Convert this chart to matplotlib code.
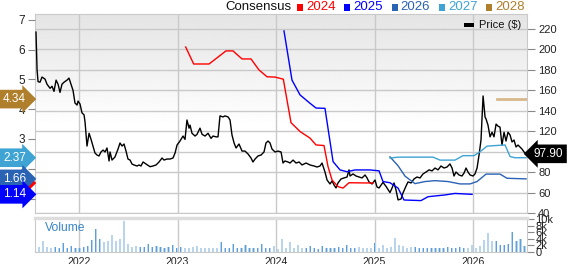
import matplotlib
matplotlib.use("Agg")
import matplotlib.pyplot as plt
import matplotlib.transforms as mtrans
from matplotlib.patches import Rectangle
import numpy as np
import pandas as pd

plt.rcParams['font.family'] = ['Liberation Sans', 'DejaVu Sans']

# price history (decimal year, $)
price_t = [2021.563, 2021.574, 2021.584, 2021.604, 2021.624, 2021.655, 2021.675, 2021.706,
           2021.726, 2021.746, 2021.767, 2021.787, 2021.807, 2021.827, 2021.848, 2021.878,
           2021.898, 2021.919, 2021.939, 2021.959, 2021.980, 2021.990, 2022.010, 2022.030,
           2022.051, 2022.061, 2022.081, 2022.102, 2022.122, 2022.142, 2022.162, 2022.183,
           2022.203, 2022.223, 2022.244, 2022.264, 2022.284, 2022.305, 2022.315, 2022.335,
           2022.365, 2022.396, 2022.416, 2022.437, 2022.457, 2022.477, 2022.497, 2022.518,
           2022.538, 2022.558, 2022.589, 2022.609, 2022.629, 2022.650, 2022.721, 2022.751,
           2022.782, 2022.812, 2022.843, 2022.863, 2022.893, 2022.924, 2022.954, 2022.975,
           2022.995, 2023.025, 2023.056, 2023.076, 2023.096, 2023.117, 2023.127, 2023.147,
           2023.178, 2023.198, 2023.228, 2023.249, 2023.279, 2023.310, 2023.340, 2023.360,
           2023.391, 2023.411, 2023.431, 2023.462, 2023.482, 2023.513, 2023.533, 2023.553,
           2023.574, 2023.594, 2023.624, 2023.655, 2023.685, 2023.716, 2023.746, 2023.766,
           2023.787, 2023.817, 2023.848, 2023.878, 2023.898, 2023.919, 2023.939, 2023.959,
           2023.990, 2024.020, 2024.051, 2024.071, 2024.091, 2024.122, 2024.142, 2024.173,
           2024.203, 2024.234, 2024.264, 2024.305, 2024.345, 2024.386, 2024.416, 2024.447,
           2024.467, 2024.497, 2024.518, 2024.548, 2024.569, 2024.589, 2024.609, 2024.629,
           2024.660, 2024.690, 2024.721, 2024.741, 2024.751, 2024.782, 2024.812, 2024.843,
           2024.873, 2024.904, 2024.924, 2024.944, 2024.975, 2025.005, 2025.025, 2025.046,
           2025.086, 2025.117, 2025.157, 2025.178, 2025.198, 2025.218, 2025.239, 2025.269,
           2025.289, 2025.320, 2025.340, 2025.371, 2025.401, 2025.431, 2025.462, 2025.492,
           2025.523, 2025.553, 2025.584, 2025.614, 2025.645, 2025.675, 2025.706, 2025.736,
           2025.766, 2025.787, 2025.807, 2025.827, 2025.858, 2025.888, 2025.909, 2025.929,
           2025.949, 2025.970, 2026.000, 2026.020, 2026.041, 2026.061, 2026.081, 2026.102,
           2026.122, 2026.132, 2026.152, 2026.173, 2026.193, 2026.213, 2026.234, 2026.254,
           2026.274, 2026.294, 2026.315, 2026.335, 2026.355, 2026.376, 2026.396, 2026.416,
           2026.437, 2026.457, 2026.477, 2026.497, 2026.518, 2026.538]
price = [217, 180, 168.5, 168, 173, 171, 166, 162, 164, 159, 170, 166, 158, 166, 168, 170,
         172, 166, 160, 147.6, 145.6, 149.5, 146.6, 138, 136, 129, 105.5, 118, 112, 105.5,
         98.7, 96.7, 95.8, 99.7, 101.6, 99.7, 103.6, 90.9, 99.7, 91.8, 94.8, 102.6, 108.5,
         105.5, 107.5, 100.6, 92.8, 91.8, 87.9, 87, 86, 87, 86, 89.9, 85.3, 86, 87, 89.9,
         93.8, 91.8, 92.8, 92.8, 93.8, 98.7, 106.5, 110.4, 115.3, 112, 131, 123, 126, 118,
         115.3, 117, 123, 117, 115.3, 118, 113, 115.3, 114.5, 114.5, 135, 134, 135, 134, 131,
         116.3, 108.5, 103.6, 107.5, 100.6, 100.6, 97.7, 93.8, 89.9, 92.8, 95.8, 96.7, 99.7,
         108.5, 110.4, 108.5, 102.6, 99.7, 100.6, 99.7, 88.9, 90.9, 89.9, 88.9, 91.8, 88.9,
         89.9, 87, 88.9, 87, 86, 85, 86, 88.9, 80.1, 72.3, 68.4, 71.4, 67.4, 64.5, 69.4, 73.3,
         74.3, 75.2, 82.2, 76.2, 78.2, 76.2, 75.2, 74.3, 77.2, 74.3, 70.4, 68.4, 72.3, 65.5,
         64.5, 70, 66, 60, 64.5, 69.4, 62.5, 52.8, 53.7, 59.6, 66.4, 70.4, 69.4, 73.3, 75.2,
         74.3, 78.2, 80.1, 82.2, 81.2, 84, 82.2, 86, 84, 85, 88, 84, 76.2, 80.1, 77.2, 76.2,
         79.2, 84, 80.1, 77.2, 76.2, 78.2, 84, 96.7, 111.4, 154.5, 133.9, 132, 126, 114.5,
         119, 114.5, 127, 125, 124, 106.5, 119, 110.4, 119, 116.3, 109.5, 111.4, 104.6, 106.5,
         104.6, 102.6, 99.7, 97.9]

# consensus EPS estimates by fiscal year (decimal year, $)
eps_2024_t = [2023.083, 2023.164, 2023.320, 2023.492, 2023.563, 2023.655, 2023.746, 2023.827,
              2023.909, 2023.990, 2024.074, 2024.152, 2024.244, 2024.345, 2024.406, 2024.487,
              2024.528, 2024.569, 2024.629, 2024.680, 2024.741, 2024.985]
eps_2024 = [6.09, 5.52, 5.52, 5.96, 5.96, 5.69, 5.69, 5.32, 5.09, 5.08, 5.01, 3.55, 3.25, 3.03,
            2.80, 2.78, 2.07, 1.62, 1.40, 1.35, 1.53, 1.52]
eps_2025_t = [2024.081, 2024.162, 2024.244, 2024.345, 2024.406, 2024.497, 2024.579, 2024.650,
              2024.721, 2024.802, 2024.954, 2025.046, 2025.086, 2025.157, 2025.239, 2025.299,
              2025.472, 2025.543, 2025.716, 2025.817, 2025.990]
eps_2025 = [6.63, 4.98, 4.48, 4.20, 4.04, 4.03, 2.24, 1.96, 1.90, 1.96, 1.96, 1.93, 1.57, 1.53,
            1.35, 0.95, 0.93, 1.06, 1.12, 1.17, 1.14]
eps_2026_t = [2025.157, 2025.239, 2025.310, 2025.411, 2025.513, 2025.614, 2025.746, 2025.868,
              2025.970, 2026.041, 2026.132, 2026.274, 2026.345, 2026.538]
eps_2026 = [2.40, 2.10, 1.75, 1.50, 1.57, 1.60, 1.57, 1.49, 1.49, 1.57, 1.82, 1.82, 1.68, 1.66]
eps_2027_t = [2025.157, 2025.239, 2025.594, 2025.665, 2025.817, 2025.898, 2026.010, 2026.071,
              2026.142, 2026.325, 2026.376, 2026.426, 2026.538]
eps_2027 = [2.36, 2.39, 2.39, 2.29, 2.29, 2.44, 2.44, 2.57, 2.76, 2.80, 2.41, 2.37, 2.37]
eps_2028_t = [2026.244, 2026.548]
eps_2028 = [4.34, 4.34]

# volume (thousands), one bar every 15 days
vol_start = '2021-07-22'
volume = [3.5, 1.6, 3.2, 1.4, 1.3, 1.4, 1.2, 2.7, 1.2, 1.8, 1.2, 1.3, 1.5, 1.8, 3.5, 6.9,
          3.9, 2.9, 3.4, 5.2, 3.2, 3.8, 9.4, 2.5, 1.4, 1.8, 1.4, 1.6, 2.5, 1.6, 1.7, 1.4,
          1.2, 1.6, 2.2, 1.3, 1.6, 1.3, 1.2, 1.4, 1.7, 1.2, 1.1, 1.3, 1.2, 1.3, 2.9, 1.2,
          1.1, 2.5, 1.2, 1.1, 2.0, 1.1, 1.2, 1.1, 2.5, 1.2, 1.1, 1.8, 1.0, 3.9, 1.3, 2.9,
          1.3, 2.2, 1.2, 1.1, 1.8, 1.1, 1.0, 1.8, 1.1, 1.3, 1.2, 1.4, 1.2, 2.2, 1.3, 1.1,
          1.4, 1.2, 1.3, 1.1, 2.7, 1.2, 2.2, 1.3, 1.6, 4.1, 2.2, 1.8, 1.3, 1.6, 1.6, 1.2,
          1.1, 1.2, 1.1, 1.3, 1.2, 1.1, 1.6, 1.2, 1.1, 1.6, 1.3, 1.2, 2.2, 1.2, 1.8, 3.5,
          5.7, 3.2, 3.2, 2.2, 2.2, 2.5, 6.2, 3.2, 3.9, 1.8, 1.8, 1.9]

years = [2022, 2023, 2024, 2025, 2026]
eps_ticks = [1, 2, 3, 4, 5, 6, 7]
price_ticks = list(range(40, 221, 20))
vol_ticks = [0, 2, 4, 6, 8, 10]
vol_labels = ['0', '2k', '4k', '6k', '8k', '10k']

series = [('2024', eps_2024_t, eps_2024, '#ff0000'),
          ('2025', eps_2025_t, eps_2025, '#0000ff'),
          ('2026', eps_2026_t, eps_2026, '#2a62b4'),
          ('2027', eps_2027_t, eps_2027, '#3fa3d3'),
          ('2028', eps_2028_t, eps_2028, '#b07f2c')]

W, H = 568, 264
fig = plt.figure(figsize=(W / 100, H / 100), dpi=100)
grid_c = '#c9c9c9'
tick_c = '#888888'
xlim = (2021.553, 2026.548)

# price panel (grid lives here), EPS on a twin axis
ax = fig.add_axes([35 / W, 51 / H, 492 / W, 199 / H])
ax.set_xlim(xlim)
ax.set_ylim(40, 234.7)
grad = np.linspace(0.895, 1.0, 256)
grad = np.concatenate([grad, np.ones(200)])[:, None]
ax.imshow(grad, cmap='gray', vmin=0, vmax=1, extent=[0, 1, 0, 1], transform=ax.transAxes,
          aspect='auto', origin='upper', zorder=0)
ax.set_xticks(years)
ax.grid(True, color=grid_c, lw=1)
ax.set_axisbelow(True)
ax.tick_params(axis='x', bottom=False, labelbottom=False)
for s in ax.spines.values():
    s.set_color(grid_c)
ax.plot(price_t, price, color='black', lw=1, zorder=3)

ax_e = ax.twinx()
ax_e.set_ylim(0.513, 7.2)
ax_e.set_xlim(xlim)
for s in ax_e.spines.values():
    s.set_visible(False)
for name, t, v, c in series:
    lc = '#d8b98c' if name == '2028' else c
    lw = 2 if name == '2028' else 1
    ax_e.plot(t, v, color=lc, lw=lw, zorder=2)

# twinx moved the ticks around, set the sides afterwards
ax.yaxis.tick_right()
ax.set_yticks(price_ticks)
ax.tick_params(axis='y', right=True, left=False, labelright=True, labelleft=False,
               length=6, width=0.8, color=tick_c, labelsize=8, labelcolor='#222222', pad=2)
ax_e.yaxis.tick_left()
ax_e.set_yticks(eps_ticks)
ax_e.tick_params(axis='y', left=True, right=False, labelleft=True, labelright=False,
                 length=5, width=0.8, color=tick_c, labelsize=8.5, labelcolor='#222222', pad=2)

# left badges with latest consensus values
blend = mtrans.blended_transform_factory(fig.transFigure, ax_e.transData)
for name, t, v, c in [series[0], series[4], series[3], series[2], series[1]]:
    ax_e.text(3 / W, v[-1], f'{v[-1]:.2f}', transform=blend, ha='left', va='center',
              fontsize=8.5, color='white', clip_on=False, zorder=10,
              bbox=dict(boxstyle='rarrow,pad=0.28', fc=c, ec='none'))

# last price badge
blend_p = mtrans.blended_transform_factory(fig.transFigure, ax.transData)
ax.text(534 / W, price[-1], f'{price[-1]:.2f}', transform=blend_p, ha='left', va='center',
        fontsize=8.5, color='white', clip_on=False, zorder=10,
        bbox=dict(boxstyle='larrow,pad=0.28', fc='black', ec='none'))

# price legend
fig.patches.append(Rectangle((464 / W, 1 - 27 / H), 10 / W, 4 / H, transform=fig.transFigure,
                             fc='black', ec='none'))
fig.text(479 / W, 1 - 25 / H, 'Price ($)', fontsize=8, va='center', ha='left', color='#111111')

# volume panel
ax_v = fig.add_axes([35 / W, 12 / H, 492 / W, 34 / H])
vol_t = pd.date_range(vol_start, periods=len(volume), freq='15D')
vol_x = vol_t.year + (vol_t.dayofyear - 1) / 365.25
ax_v.bar(vol_x, volume, width=0.022, color='#b9d5ee', zorder=2)
ax_v.bar(vol_x, volume, width=0.006, color='#5d9fd8', zorder=3)
ax_v.set_xlim(xlim)
ax_v.set_ylim(0, 10.3)
ax_v.set_xticks(years)
ax_v.set_xticklabels([str(y) for y in years])
ax_v.xaxis.grid(True, color=grid_c, lw=1)
ax_v.set_axisbelow(True)
ax_v.yaxis.tick_right()
ax_v.set_yticks(vol_ticks)
ax_v.set_yticklabels(vol_labels)
ax_v.tick_params(axis='y', right=True, left=False, length=5, width=0.8, color=tick_c,
                 labelsize=8, labelcolor='#222222', pad=1)
ax_v.tick_params(axis='x', bottom=False, labelsize=7.6, labelcolor='#222222', pad=0)
for s in ax_v.spines.values():
    s.set_color(grid_c)
ax_v.spines['top'].set_color('#dddddd')
ax_v.spines['top'].set_linewidth(2.5)
ax_v.text(0.02, 0.72, 'Volume', transform=ax_v.transAxes, fontsize=8.7, color='#3a86c8',
          va='center', ha='left')

# consensus legend on top
ty = 1 - 7 / H
fig.text(225 / W, ty, 'Consensus', fontsize=9.5, va='center', ha='left', color='#111111')
x0 = 297
for name, t, v, c in series:
    fig.patches.append(Rectangle((x0 / W, ty - 3.5 / H), 6 / W, 7 / H, transform=fig.transFigure,
                                 fc=c, ec='none'))
    fig.text((x0 + 9) / W, ty, name, fontsize=9.5, va='center', ha='left', color=c)
    x0 += 47.3

fig.savefig('out.png', dpi=100)
